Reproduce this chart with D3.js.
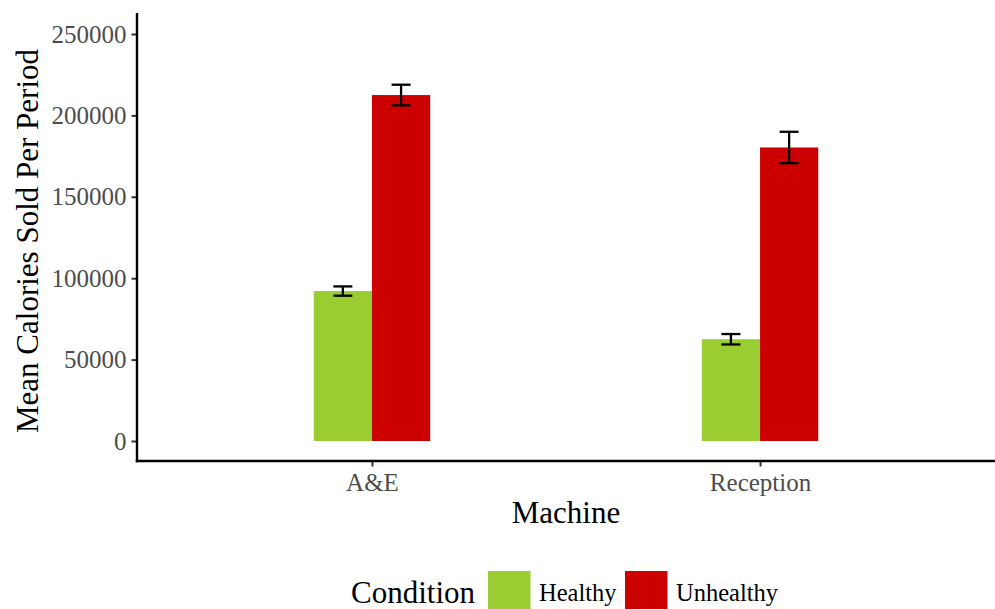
<!DOCTYPE html>
<html>
<head>
<meta charset="utf-8">
<script src="https://cdn.jsdelivr.net/npm/d3@7"></script>
<style>
  html, body { margin: 0; padding: 0; background: #fff; }
  svg { display: block; font-family: "Liberation Serif", "Times New Roman", serif; }
</style>
</head>
<body>
<svg id="chart" width="995" height="609"></svg>
<script>
// ---- Data ----
const machines = ["A&E", "Reception"];
const conditions = ["Healthy", "Unhealthy"];
const meanHealthy = [92100, 62500];
const meanUnhealthy = [212500, 180300];
const errHealthy = [2850, 3200];
const errUnhealthy = [6350, 9640];
const yTicks = [0, 50000, 100000, 150000, 200000, 250000];
const colors = ["#9ACD32", "#CD0000"];

const rows = [];
machines.forEach((m, i) => {
  rows.push({ machine: m, condition: conditions[0], mean: meanHealthy[i], err: errHealthy[i] });
  rows.push({ machine: m, condition: conditions[1], mean: meanUnhealthy[i], err: errUnhealthy[i] });
});

// ---- Layout ----
const panel = { left: 137, right: 995, top: 13, bottom: 461 };
const svg = d3.select("#chart");

const x = d3.scalePoint().domain(machines).range([panel.left, panel.right]).padding(0.6055);
const groupWidth = 0.3 * x.step();
const xSub = d3.scaleBand().domain(conditions).range([-groupWidth / 2, groupWidth / 2]);
const y = d3.scaleLinear().domain([-12285, 262900]).range([panel.bottom, panel.top]);
const color = d3.scaleOrdinal().domain(conditions).range(colors);

// Bars
svg.append("g").selectAll("rect").data(rows).join("rect")
  .attr("x", d => x(d.machine) + xSub(d.condition))
  .attr("width", xSub.bandwidth())
  .attr("y", d => y(d.mean))
  .attr("height", d => y(0) - y(d.mean))
  .attr("fill", d => color(d.condition));

// Error bars
const capHalf = 9.5;
const eb = svg.append("g").attr("stroke", "#000").attr("stroke-width", 2.3).attr("fill", "none");
rows.forEach(d => {
  const cx = x(d.machine) + xSub(d.condition) + xSub.bandwidth() / 2;
  eb.append("line").attr("x1", cx).attr("x2", cx).attr("y1", y(d.mean + d.err)).attr("y2", y(d.mean - d.err));
  eb.append("line").attr("x1", cx - capHalf).attr("x2", cx + capHalf).attr("y1", y(d.mean + d.err)).attr("y2", y(d.mean + d.err));
  eb.append("line").attr("x1", cx - capHalf).attr("x2", cx + capHalf).attr("y1", y(d.mean - d.err)).attr("y2", y(d.mean - d.err));
});

// Y axis
const yAxis = svg.append("g").attr("transform", `translate(${panel.left},0)`)
  .call(d3.axisLeft(y).tickValues(yTicks).tickFormat(d3.format("d")).tickSize(5.5).tickPadding(5));
yAxis.select(".domain").remove();
yAxis.selectAll(".tick line").attr("stroke", "#333").attr("stroke-width", 2);
yAxis.selectAll(".tick text").attr("fill", "#4D4D4D").style("font-size", "25px")
  .style("font-family", "Liberation Serif");

// X axis
const xAxis = svg.append("g").attr("transform", `translate(0,${panel.bottom})`)
  .call(d3.axisBottom(x).tickSize(5.5).tickPadding(7));
xAxis.select(".domain").remove();
xAxis.selectAll(".tick line").attr("stroke", "#333").attr("stroke-width", 2);
xAxis.selectAll(".tick text").attr("fill", "#4D4D4D").style("font-size", "25px")
  .style("font-family", "Liberation Serif");

// Axis lines
svg.append("line").attr("x1", panel.left).attr("x2", panel.left)
  .attr("y1", panel.top).attr("y2", panel.bottom + 1.2).attr("stroke", "#000").attr("stroke-width", 2.4);
svg.append("line").attr("x1", panel.left - 1.2).attr("x2", panel.right)
  .attr("y1", panel.bottom).attr("y2", panel.bottom).attr("stroke", "#000").attr("stroke-width", 2.4);

// Axis titles
svg.append("text").attr("x", (panel.left + panel.right) / 2).attr("y", 523)
  .attr("text-anchor", "middle").style("font-size", "31px").attr("fill", "#000").text("Machine");
svg.append("text").attr("transform", `translate(38,241) rotate(-90)`)
  .attr("text-anchor", "middle").style("font-size", "31px").attr("fill", "#000").text("Mean Calories Sold Per Period");

// Legend
const lg = svg.append("g");
lg.append("text").attr("x", 351).attr("y", 603).style("font-size", "31px").attr("fill", "#000").text("Condition");
const keyX = [488, 625];
conditions.forEach((c, i) => {
  lg.append("rect").attr("x", keyX[i]).attr("y", 571).attr("width", 42.5).attr("height", 42.5).attr("fill", color(c));
  lg.append("text").attr("x", keyX[i] + 51).attr("y", 600.5).style("font-size", "24.5px").attr("fill", "#000").text(c);
});
</script>
</body>
</html>
